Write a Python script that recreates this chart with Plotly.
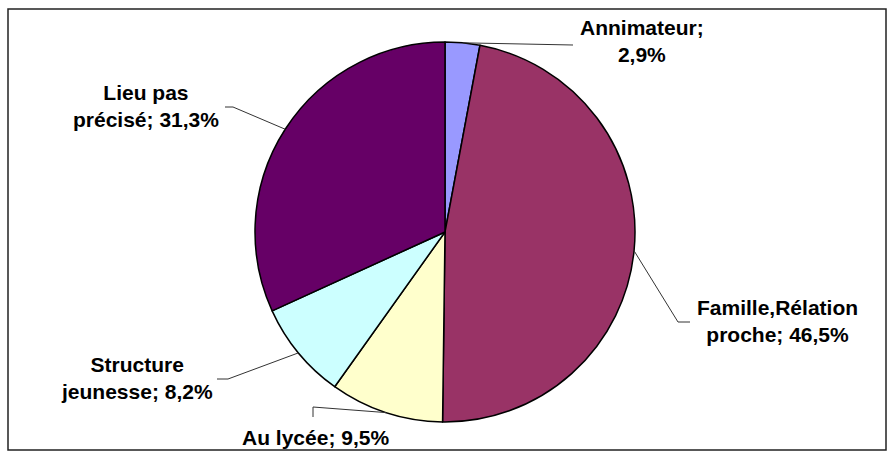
import math
import plotly.graph_objects as go

# ---- data ----
names = ["Annimateur", "Famille,Rélation proche", "Au lycée", "Structure jeunesse", "Lieu pas précisé"]
values = [2.9, 46.5, 9.5, 8.2, 31.3]
label_lines = [
    ["Annimateur;", "2,9%"],
    ["Famille,Rélation", "proche; 46,5%"],
    ["Au lycée; 9,5%"],
    ["Structure", "jeunesse; 8,2%"],
    ["Lieu pas", "précisé; 31,3%"],
]
colors = ["#9999FF", "#993366", "#FFFFCC", "#CCFFFF", "#660066"]

# ---- layout geometry (pixels) ----
W, H = 894, 456
cx, cy, r = 445, 232, 190
label_pos = [(642, 41), (777, 321), (315, 437), (137, 378), (146, 106)]
elbows = [
    [(573, 45)],
    [(678, 322), (690, 322)],
    [(313, 407), (313, 417)],
    [(228, 379), (217, 379)],
    [(233, 107), (225, 107)],
]

def px(x):
    return x / W

def py(y):
    return 1 - y / H

fig = go.Figure(go.Pie(
    labels=names,
    values=values,
    sort=False,
    direction="clockwise",
    rotation=0,
    marker=dict(colors=colors, line=dict(color="black", width=1.5)),
    textinfo="none",
    hoverinfo="skip",
    showlegend=False,
    domain=dict(x=[px(cx - r), px(cx + r)], y=[py(cy + r), py(cy - r)]),
))

total = sum(values)
shapes = []
annotations = []
cum = 0.0
for v, lines, pos, elb in zip(values, label_lines, label_pos, elbows):
    mid = (cum + v / 2) / total * 2 * math.pi
    cum += v
    ex = cx + r * math.sin(mid)
    ey = cy - r * math.cos(mid)
    pts = [(ex, ey)] + elb
    path = "M " + " L ".join(f"{px(x)},{py(y)}" for x, y in pts)
    shapes.append(dict(type="path", xref="paper", yref="paper", path=path,
                       line=dict(color="#333333", width=1)))
    annotations.append(dict(
        x=px(pos[0]), y=py(pos[1]), xref="paper", yref="paper",
        text="<br>".join(f"<b>{l}</b>" for l in lines),
        showarrow=False, xanchor="center", yanchor="middle",
        align="center",
        font=dict(family="Liberation Sans, Arial, sans-serif", size=21, color="black"),
    ))

# outer frame
shapes.append(dict(type="rect", xref="paper", yref="paper",
                   x0=px(8), x1=px(886), y0=py(450), y1=py(9),
                   line=dict(color="#222222", width=1.5), fillcolor="rgba(0,0,0,0)"))

fig.update_layout(
    width=W, height=H,
    margin=dict(l=0, r=0, t=0, b=0),
    paper_bgcolor="white", plot_bgcolor="white",
    shapes=shapes, annotations=annotations,
)

fig.write_html(
    "out.html",
    config={"displayModeBar": False},
    post_script="document.body.style.margin='0';document.body.style.overflow='hidden';",
)
